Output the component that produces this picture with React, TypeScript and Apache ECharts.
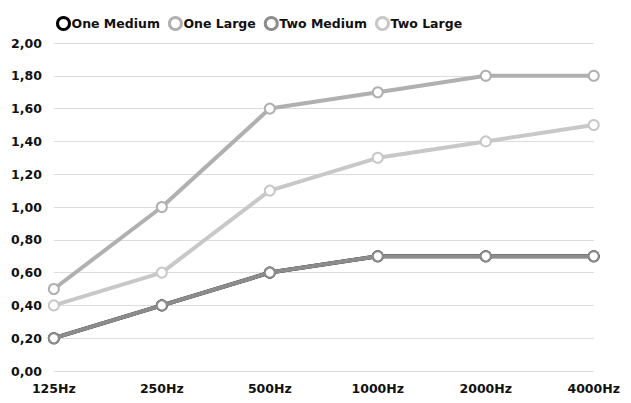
import React, { useEffect, useRef } from "react";
import * as echarts from "echarts";

const categories = ["125Hz", "250Hz", "500Hz", "1000Hz", "2000Hz", "4000Hz"];
const oneMedium = [0.2, 0.4, 0.6, 0.7, 0.7, 0.7];
const oneLarge = [0.5, 1.0, 1.6, 1.7, 1.8, 1.8];
const twoMedium = [0.2, 0.4, 0.6, 0.7, 0.7, 0.7];
const twoLarge = [0.4, 0.6, 1.1, 1.3, 1.4, 1.5];

const FONT = "DejaVu Sans";

export default function App() {
  const ref = useRef<HTMLDivElement>(null);
  useEffect(() => {
    if (!ref.current) return;
    const chart = echarts.init(ref.current, undefined, { renderer: "svg" });
    const mk = (name: string, data: number[], color: string, z: number) => ({
      name,
      type: "line",
      data,
      z,
      symbol: "emptyCircle",
      symbolSize: 10,
      lineStyle: { color, width: 4 },
      itemStyle: { color, borderColor: color, borderWidth: 3.5 },
    });
    chart.setOption({
      animation: false,
      textStyle: { fontFamily: FONT },
      legend: {
        left: 43,
        top: 3,
        itemWidth: 12,
        itemHeight: 12,
        itemGap: 8,
        icon: "circle",
        textStyle: { fontFamily: FONT, fontWeight: "bold", fontSize: 12.5, color: "#111", padding: [0, 0, 0, -3] },
        data: [
          { name: "One Medium", itemStyle: { color: "#fff", borderColor: "#000", borderWidth: 3 } },
          { name: "One Large", itemStyle: { color: "#fff", borderColor: "#b0b0b0", borderWidth: 3 } },
          { name: "Two Medium", itemStyle: { color: "#fff", borderColor: "#8c8c8c", borderWidth: 3 } },
          { name: "Two Large", itemStyle: { color: "#fff", borderColor: "#c8c8c8", borderWidth: 3 } },
        ],
      },
      grid: { left: 44, right: 22, top: 35, bottom: 20 },
      xAxis: {
        type: "category",
        data: categories,
        boundaryGap: false,
        axisLine: { show: false },
        axisTick: { show: false },
        axisLabel: { fontFamily: FONT, fontWeight: "bold", fontSize: 12.5, color: "#111", margin: 11 },
      },
      yAxis: {
        type: "value",
        min: 0,
        max: 2,
        interval: 0.2,
        axisLine: { show: false },
        axisTick: { show: false },
        splitLine: { lineStyle: { color: "#dcdcdc", width: 1 } },
        axisLabel: {
          fontFamily: FONT,
          fontWeight: "bold",
          fontSize: 12.5,
          color: "#111",
          margin: 12,
          formatter: (v: number) => v.toFixed(2).replace(".", ","),
        },
      },
      series: [
        mk("One Medium", oneMedium, "#000000", 2),
        mk("One Large", oneLarge, "#b0b0b0", 3),
        mk("Two Medium", twoMedium, "#8c8c8c", 4),
        mk("Two Large", twoLarge, "#c8c8c8", 5),
      ],
    });
    return () => chart.dispose();
  }, []);
  return <div ref={ref} style={{ width: 615, height: 387 }} />;
}
